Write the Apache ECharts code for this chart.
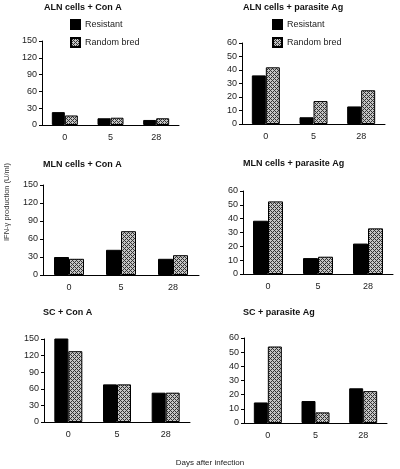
<!DOCTYPE html>
<html><head><meta charset="utf-8">
<script src="https://cdn.jsdelivr.net/npm/echarts@6/dist/echarts.min.js"></script>
<style>html,body{margin:0;padding:0;background:#fff}#c{width:400px;height:469px}</style>
</head><body><div id="c"></div>
<script>
// ---- data ----
const days = ['0', '5', '28'];
const seriesNames = ['Resistant', 'Random bred'];
const panelTitles = ['ALN cells + Con A', 'ALN cells + parasite Ag', 'MLN cells + Con A', 'MLN cells + parasite Ag', 'SC + Con A', 'SC + parasite Ag'];
const alnConA_resistant = [23, 12, 9];
const alnConA_random = [17, 13, 12];
const alnAg_resistant = [36, 5, 13];
const alnAg_random = [42, 17, 25];
const mlnConA_resistant = [30, 42, 27];
const mlnConA_random = [27, 73, 33];
const mlnAg_resistant = [38.5, 11.5, 22];
const mlnAg_random = [52.5, 12.5, 33];
const scConA_resistant = [151, 68, 53];
const scConA_random = [128, 68, 53];
const scAg_resistant = [14.5, 15.5, 24.5];
const scAg_random = [54, 7.5, 22.5];
const conATicks = { max: 150, interval: 30 };
const agTicks = { max: 60, interval: 10 };
const yAxisTitle = 'IFN-γ production (U/ml)';
const xAxisTitle = 'Days after infection';

const panelData = [
  [alnConA_resistant, alnConA_random, conATicks],
  [alnAg_resistant, alnAg_random, agTicks],
  [mlnConA_resistant, mlnConA_random, conATicks],
  [mlnAg_resistant, mlnAg_random, agTicks],
  [scConA_resistant, scConA_random, conATicks],
  [scAg_resistant, scAg_random, agTicks]
];

// ---- layout ----
const grids = [
  { left: 42, top: 41, width: 137, height: 84 },
  { left: 242, top: 43, width: 143, height: 81 },
  { left: 43, top: 185, width: 156, height: 90 },
  { left: 243, top: 191, width: 150, height: 83 },
  { left: 44, top: 339, width: 146, height: 83 },
  { left: 244, top: 338, width: 143, height: 85 }
];
const titlePos = [[44, 3], [243, 3], [43, 160], [243, 159], [43, 308], [243, 308]];
const barWidths = [13, 14, 15, 15, 14, 14];

// hatched pattern
const pc = document.createElement('canvas');
pc.width = 4; pc.height = 4;
const g = pc.getContext('2d');
g.fillStyle = '#c4c4c4'; g.fillRect(0, 0, 4, 4);
g.fillStyle = '#333333';
for (let x = 0; x < 4; x++) for (let y = 0; y < 4; y++) {
  if ((x + y) % 4 === 0 || (x - y + 4) % 4 === 0) g.fillRect(x, y, 1, 1);
}
const hatch = { image: pc, repeat: 'repeat' };

const font = 'Liberation Sans, Arial, Helvetica, sans-serif';
const option = {
  animation: false,
  textStyle: { fontFamily: font },
  title: panelTitles.map((t, i) => ({
    text: t, left: titlePos[i][0], top: titlePos[i][1], padding: 0,
    textStyle: { fontSize: 9, fontWeight: 'bold', color: '#111', fontFamily: font }
  })),
  legend: [
    { left: 70, top: 19 }, { left: 272, top: 19 }
  ].map(p => ({
    data: seriesNames, left: p.left, top: p.top, orient: 'vertical', padding: 0,
    itemWidth: 9, itemHeight: 9, itemGap: 7, icon: 'rect',
    textStyle: { fontSize: 9, color: '#222', fontFamily: font, padding: [0, 0, 0, 0] },
    selectedMode: false
  })),
  grid: grids.map(gr => Object.assign({ containLabel: false }, gr)),
  xAxis: grids.map((gr, i) => ({
    type: 'category', gridIndex: i, data: days,
    axisLine: { lineStyle: { color: '#000', width: 1 } },
    axisTick: { length: 4, lineStyle: { color: '#000' } },
    axisLabel: { fontSize: 9, color: '#222', margin: 8, fontFamily: font }
  })),
  yAxis: panelData.map((p, i) => ({
    type: 'value', gridIndex: i, min: 0, max: p[2].max, interval: p[2].interval,
    splitLine: { show: false },
    axisLine: { show: true, lineStyle: { color: '#000', width: 1 } },
    axisTick: { show: true, length: 3, lineStyle: { color: '#000' } },
    axisLabel: { fontSize: 9, color: '#222', margin: 5, fontFamily: font }
  })),
  series: [],
  graphic: [
    { type: 'text', x: 7, y: 202, rotation: Math.PI / 2,
      style: { text: yAxisTitle, fontSize: 7.5, fill: '#333', fontFamily: font, align: 'center', verticalAlign: 'middle' } },
    { type: 'text', x: 210, y: 463,
      style: { text: xAxisTitle, fontSize: 8, fill: '#222', fontFamily: font, align: 'center', verticalAlign: 'middle' } }
  ]
};
panelData.forEach((p, i) => {
  option.series.push({
    name: seriesNames[0], type: 'bar', xAxisIndex: i, yAxisIndex: i, data: p[0],
    barWidth: barWidths[i], barGap: '0%',
    itemStyle: { color: '#000', borderColor: '#000', borderWidth: 1 }
  });
  option.series.push({
    name: seriesNames[1], type: 'bar', xAxisIndex: i, yAxisIndex: i, data: p[1],
    barWidth: barWidths[i], barGap: '0%',
    itemStyle: { color: hatch, borderColor: '#000', borderWidth: 1 }
  });
});
const chart = echarts.init(document.getElementById('c'), null, { renderer: 'canvas' });
chart.setOption(option);
</script></body></html>
